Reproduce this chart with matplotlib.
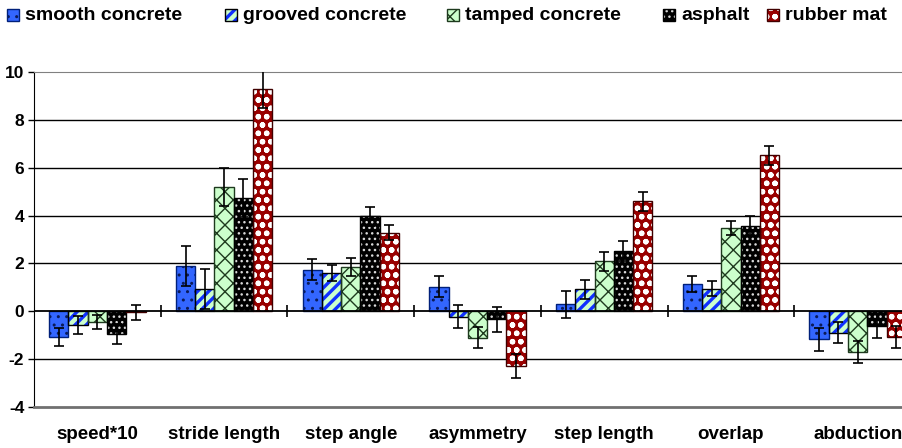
import matplotlib
matplotlib.use("Agg")
import matplotlib.pyplot as plt
import numpy as np
from matplotlib.patches import Rectangle

# values
categories = ["speed*10", "stride length", "step angle", "asymmetry",
              "step length", "overlap", "abduction"]
series = ["smooth concrete", "grooved concrete", "tamped concrete", "asphalt", "rubber mat"]

smooth = [-1.09, 1.90, 1.74, 1.03, 0.29, 1.14, -1.16]
smooth_err = [0.38, 0.83, 0.44, 0.43, 0.55, 0.35, 0.48]
grooved = [-0.58, 0.93, 1.60, -0.23, 0.92, 0.95, -0.90]
grooved_err = [0.37, 0.83, 0.34, 0.48, 0.39, 0.30, 0.44]
tamped = [-0.45, 5.20, 1.85, -1.10, 2.09, 3.47, -1.70]
tamped_err = [0.30, 0.78, 0.38, 0.43, 0.40, 0.30, 0.45]
asphalt = [-0.96, 4.73, 3.97, -0.33, 2.52, 3.57, -0.63]
asphalt_err = [0.42, 0.80, 0.39, 0.53, 0.43, 0.43, 0.50]
rubber = [-0.05, 9.30, 3.29, -2.27, 4.59, 6.52, -1.07]
rubber_err = [0.31, 0.80, 0.31, 0.50, 0.39, 0.39, 0.45]

values = [smooth, grooved, tamped, asphalt, rubber]
errors = [smooth_err, grooved_err, tamped_err, asphalt_err, rubber_err]

# (face, hatch, hatch colour, outline, hatch width)
styles = [
    ("#3366FF", "..", "#0A1A5A", "#00207A", 1.0),
    ("#CCFFCC", "///", "#1030FF", "#000000", 2.4),
    ("#CCFFCC", "xx", "#1E3A1E", "#1E3A1E", 1.0),
    ("#000000", "...", "#D8D8D8", "#000000", 1.0),
    ("#990000", "oo", "#FFFFFF", "#400000", 1.6),
]

plt.rcParams["font.family"] = ["Liberation Sans", "DejaVu Sans"]
plt.rcParams["axes.unicode_minus"] = False
plt.rcParams["hatch.linewidth"] = 1.0


def hatch_width(patch, w):
    if hasattr(patch, "set_hatch_linewidth"):
        patch.set_hatch_linewidth(w)
    else:
        patch._hatch_linewidth = w


W, H = 902, 448
fig = plt.figure(figsize=(W / 100, H / 100), dpi=100)
left, right, top, bottom = 34, 921, 72, 407
ax = fig.add_axes([left / W, 1 - bottom / H, (right - left) / W, (bottom - top) / H])

x = np.arange(len(categories))
bw = 0.152
for k in range(len(series)):
    face, hatch, hcol, edge, hw = styles[k]
    pos = x + (k - 2) * bw
    bars = ax.bar(pos, values[k], bw, color=face, hatch=hatch, edgecolor=hcol, lw=0, zorder=3)
    for b in bars:
        hatch_width(b, hw)
    ax.bar(pos, values[k], bw, fill=False, edgecolor=edge, lw=1.0, zorder=4)
    ax.errorbar(pos, values[k], yerr=errors[k], fmt="none", ecolor="black",
                elinewidth=1.2, capsize=3.5, capthick=1.2, zorder=5)

ax.set_xlim(-0.5, len(categories) - 0.5)
ax.set_ylim(-4, 10)
ax.set_yticks(np.arange(-4, 11, 2))
for g in [-2, 2, 4, 6, 8]:
    ax.axhline(g, color="black", lw=1.0, zorder=1)

# category axis crossing at zero with tick marks between groups
ax.axhline(0, color="black", lw=1.3, zorder=6)
ax.plot(x[:-1] + 0.5, np.zeros(len(x) - 1), ls="none", marker="|", ms=9,
        mew=1.2, color="black", zorder=6, clip_on=False)

ax.set_xticks(x)
ax.set_xticklabels(categories, fontsize=13.5, fontweight="bold")
ax.tick_params(axis="x", length=0, pad=14)
ax.tick_params(axis="y", length=4, width=1, pad=3, labelsize=12.5)
for t in ax.get_yticklabels():
    t.set_fontweight("bold")

ax.spines["left"].set_color("black")
ax.spines["top"].set_color("#808080")
ax.spines["bottom"].set_color("#707070")
ax.spines["bottom"].set_linewidth(2)
ax.spines["right"].set_visible(False)

# legend along the top, laid out like the original
leg_x = [7, 225, 447, 663, 767]
for k, name in enumerate(series):
    face, hatch, hcol, edge, hw = styles[k]
    x0 = leg_x[k] / W
    y0 = 1 - 21 / H
    sq = Rectangle((x0, y0), 12 / W, 12 / H, transform=fig.transFigure,
                   facecolor=face, hatch=hatch, edgecolor=hcol, lw=0)
    hatch_width(sq, hw)
    fig.patches.append(sq)
    fig.patches.append(Rectangle((x0, y0), 12 / W, 12 / H, transform=fig.transFigure,
                                 fill=False, edgecolor=edge, lw=1.0))
    fig.text(x0 + 18 / W, 1 - 15 / H, name, fontsize=14, fontweight="bold",
             va="center", ha="left")

fig.savefig("out.png", dpi=100)
